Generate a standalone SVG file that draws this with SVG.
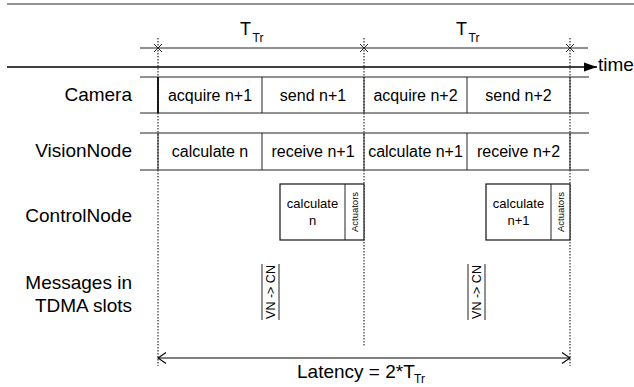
<svg xmlns="http://www.w3.org/2000/svg" width="634" height="387" viewBox="0 0 634 387">
<defs>
<style>
text{font-family:"Liberation Sans",Arial,sans-serif;fill:#000}
.lbl{font-size:19px;text-anchor:end}
.cell{font-size:16px;text-anchor:middle}
.small{font-size:13px;text-anchor:middle}
.act{font-size:9.5px;text-anchor:middle}
.msg{font-size:12.5px;text-anchor:middle}
.ln{stroke:#222;stroke-width:1;fill:none}
.dot{stroke:#333;stroke-width:1.2;stroke-dasharray:1.5 1.5;fill:none}
.box{stroke:#111;stroke-width:1.2;fill:#fff}
</style>
<marker id="arr" markerWidth="14" markerHeight="10" refX="13" refY="5" orient="auto" markerUnits="userSpaceOnUse">
<path d="M0,0.5 L13,5 L0,9.5 Z" fill="#000"/>
</marker>
<marker id="open" markerWidth="10" markerHeight="12" refX="9" refY="6" orient="auto-start-reverse" markerUnits="userSpaceOnUse">
<path d="M1,0.5 L9,6 L1,11.5" fill="none" stroke="#000" stroke-width="1.1"/>
</marker>
</defs>
<rect width="634" height="387" fill="#fff"/>

<g id="frame">
<line class="ln" x1="7" y1="4" x2="634" y2="4"/>
</g>

<g id="connectors">
<line class="dot" x1="158" y1="38" x2="158" y2="366"/>
<line class="dot" x1="364" y1="38" x2="364" y2="347"/>
<line class="dot" x1="570" y1="38" x2="570" y2="366"/>
<line class="ln" x1="140" y1="48" x2="588" y2="48"/>
<path class="ln" d="M154,44 L162,52 M154,52 L162,44" stroke-width="1.6"/>
<path class="ln" d="M360,44 L368,52 M360,52 L368,44"/>
<path class="ln" d="M566,44 L574,52 M566,52 L574,44"/>
<line x1="7" y1="67" x2="597" y2="67" stroke="#000" stroke-width="1.3" marker-end="url(#arr)"/>
<line x1="158" y1="358" x2="570" y2="358" stroke="#000" stroke-width="1.2" marker-start="url(#open)" marker-end="url(#open)"/>
</g>

<g id="ttr-labels">
<text x="240" y="35" style="font-size:18px">T</text><text x="252.5" y="42" style="font-size:12px">Tr</text>
<text x="456" y="35" style="font-size:18px">T</text><text x="468.5" y="42" style="font-size:12px">Tr</text>
<text x="598" y="71" style="font-size:19px">time</text>
</g>

<g id="camera">
<text class="lbl" x="132" y="101">Camera</text>
<line class="ln" x1="140" y1="77" x2="589" y2="77"/>
<line class="ln" x1="140" y1="113" x2="589" y2="113"/>
<path class="ln" d="M158,77V113 M262,77V113 M364,77V113 M467,77V113 M570,77V113"/>
<line x1="158" y1="77" x2="158" y2="113" stroke="#000" stroke-width="1.6"/>
<text class="cell" x="210" y="101">acquire n+1</text>
<text class="cell" x="313" y="101">send n+1</text>
<text class="cell" x="415.5" y="101">acquire n+2</text>
<text class="cell" x="518.5" y="101">send n+2</text>
</g>

<g id="visionnode">
<text class="lbl" x="132" y="157">VisionNode</text>
<line class="ln" x1="140" y1="133" x2="589" y2="133"/>
<line class="ln" x1="140" y1="170" x2="589" y2="170"/>
<path class="ln" d="M158,133V170 M262,133V170 M364,133V170 M467,133V170 M570,133V170"/>
<text class="cell" x="210" y="157">calculate n</text>
<text class="cell" x="313" y="157">receive n+1</text>
<text class="cell" x="415.5" y="157">calculate n+1</text>
<text class="cell" x="518.5" y="157">receive n+2</text>
</g>

<g id="controlnode">
<text class="lbl" x="132" y="222">ControlNode</text>
<rect class="box" x="280" y="184" width="84" height="56"/>
<line class="ln" x1="345" y1="184" x2="345" y2="240"/>
<text class="small" x="312.5" y="208">calculate</text>
<text class="small" x="312.5" y="225">n</text>
<text class="act" transform="translate(358,212) rotate(-90)">Actuators</text>
<rect class="box" x="486" y="184" width="84" height="56"/>
<line class="ln" x1="551" y1="184" x2="551" y2="240"/>
<text class="small" x="518.5" y="208">calculate</text>
<text class="small" x="518.5" y="225">n+1</text>
<text class="act" transform="translate(564,212) rotate(-90)">Actuators</text>
</g>

<g id="messages">
<text class="lbl" x="132" y="289">Messages in</text>
<text class="lbl" x="132" y="312">TDMA slots</text>
<path class="ln" d="M262,264V320 M279,264V320"/>
<text class="msg" transform="translate(275,292) rotate(-90)">VN -&gt; CN</text>
<path class="ln" d="M468,264V320 M485,264V320"/>
<text class="msg" transform="translate(481,292) rotate(-90)">VN -&gt; CN</text>
</g>

<g id="latency">
<text x="297" y="378" style="font-size:19px">Latency = 2*T</text><text x="414" y="383" style="font-size:12px">Tr</text>
</g>
</svg>
